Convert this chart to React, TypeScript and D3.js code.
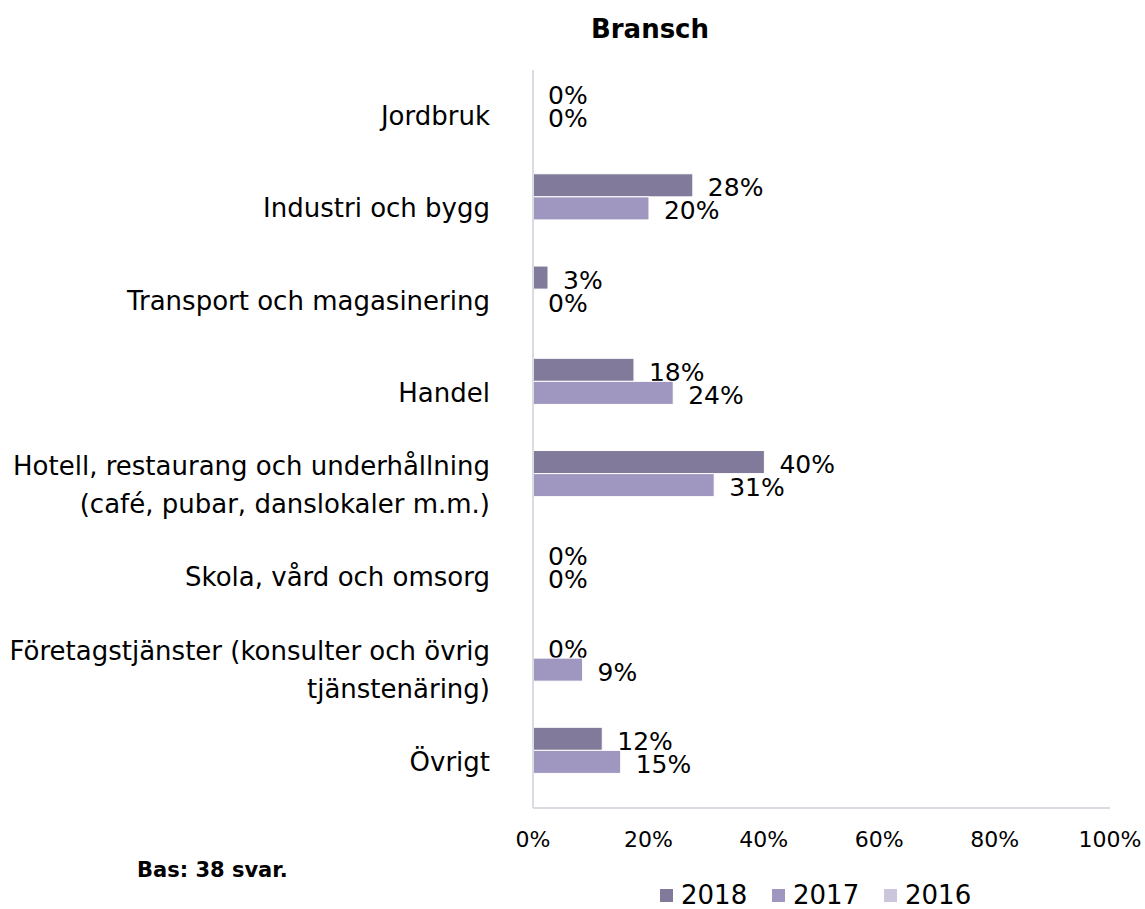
import React from "react";
import * as d3 from "d3";

const title = "Bransch";
const categories = [
  ["Jordbruk"],
  ["Industri och bygg"],
  ["Transport och magasinering"],
  ["Handel"],
  ["Hotell, restaurang och underhållning", "(café, pubar, danslokaler m.m.)"],
  ["Skola, vård och omsorg"],
  ["Företagstjänster (konsulter och övrig", "tjänstenäring)"],
  ["Övrigt"],
];
const seriesNames = ["2018", "2017", "2016"];
const values2018 = [0, 27.7, 2.6, 17.5, 40.1, 0, 0, 12.0];
const values2017 = [0, 20.1, 0, 24.3, 31.4, 0, 8.6, 15.2];
const values2016: (number | null)[] = [null, null, null, null, null, null, null, null];
const colors = ["#817A9B", "#A097C0", "#CBC6DC"];
const xTicks = [0, 20, 40, 60, 80, 100];
const note = "Bas: 38 svar.";

const W = 1145;
const H = 909;
const FONT = "'DejaVu Sans', Verdana, sans-serif";

export default function App() {
  const x = d3.scaleLinear().domain([0, 100]).range([533, 1110]);
  const keys = categories.map((_, i) => String(i));
  const y0 = d3
    .scaleBand<string>()
    .domain(keys)
    .range([70, 808])
    .paddingInner(0.25)
    .paddingOuter(0.125);
  const y1 = d3
    .scaleBand<string>()
    .domain(seriesNames)
    .range([0, y0.bandwidth()]);
  const allSeries = [values2018, values2017, values2016];

  return (
    <svg width={W} height={H} style={{ display: "block", position: "absolute", left: 0, top: 0 }} fontFamily={FONT}>
      <rect x={0} y={0} width={W} height={H} fill="#fff" />
      <text x={650} y={38} textAnchor="middle" fontSize={26} fontWeight="bold" fill="#000">
        {title}
      </text>

      {/* category labels */}
      {categories.map((lines, i) => {
        const cy = (y0(String(i)) as number) + y0.bandwidth() / 2;
        const lh = 38;
        const start = cy - ((lines.length - 1) * lh) / 2;
        return (
          <text key={i} textAnchor="end" fontSize={26} fill="#000">
            {lines.map((l, j) => (
              <tspan key={j} x={490} y={start + j * lh + 9}>
                {l}
              </tspan>
            ))}
          </text>
        );
      })}

      {/* bars */}
      {allSeries.map((vals, s) =>
        vals.map((v, i) => {
          if (v === null) return null;
          const by = (y0(String(i)) as number) + (y1(seriesNames[s]) as number);
          const bh = y1.bandwidth();
          return (
            <g key={`${s}-${i}`}>
              {v > 0 && (
                <rect
                  x={x(0)}
                  y={by}
                  width={x(v) - x(0)}
                  height={bh}
                  fill={colors[s]}
                  stroke="#fff"
                  strokeWidth={1}
                />
              )}
              <text x={x(v) + 15} y={by + bh / 2 + 11} fontSize={25} fill="#000">
                {Math.round(v)}%
              </text>
            </g>
          );
        })
      )}

      {/* axes */}
      <line x1={x(0)} x2={x(0)} y1={70} y2={808} stroke="#D9DDE3" strokeWidth={2} />
      <line x1={x(0)} x2={x(100)} y1={808} y2={808} stroke="#D9DDE3" strokeWidth={2} />
      {xTicks.map((t) => (
        <text key={t} x={x(t)} y={847} textAnchor="middle" fontSize={22} fill="#000">
          {t}%
        </text>
      ))}

      <text x={137} y={877} fontSize={21} fontWeight="bold" fill="#000">
        {note}
      </text>

      {/* legend */}
      {seriesNames.map((n, s) => {
        const lx = 660 + s * 112;
        return (
          <g key={n}>
            <rect x={lx} y={889} width={13} height={13} fill={colors[s]} />
            <text x={lx + 21} y={904} fontSize={26} fill="#000">
              {n}
            </text>
          </g>
        );
      })}
    </svg>
  );
}
